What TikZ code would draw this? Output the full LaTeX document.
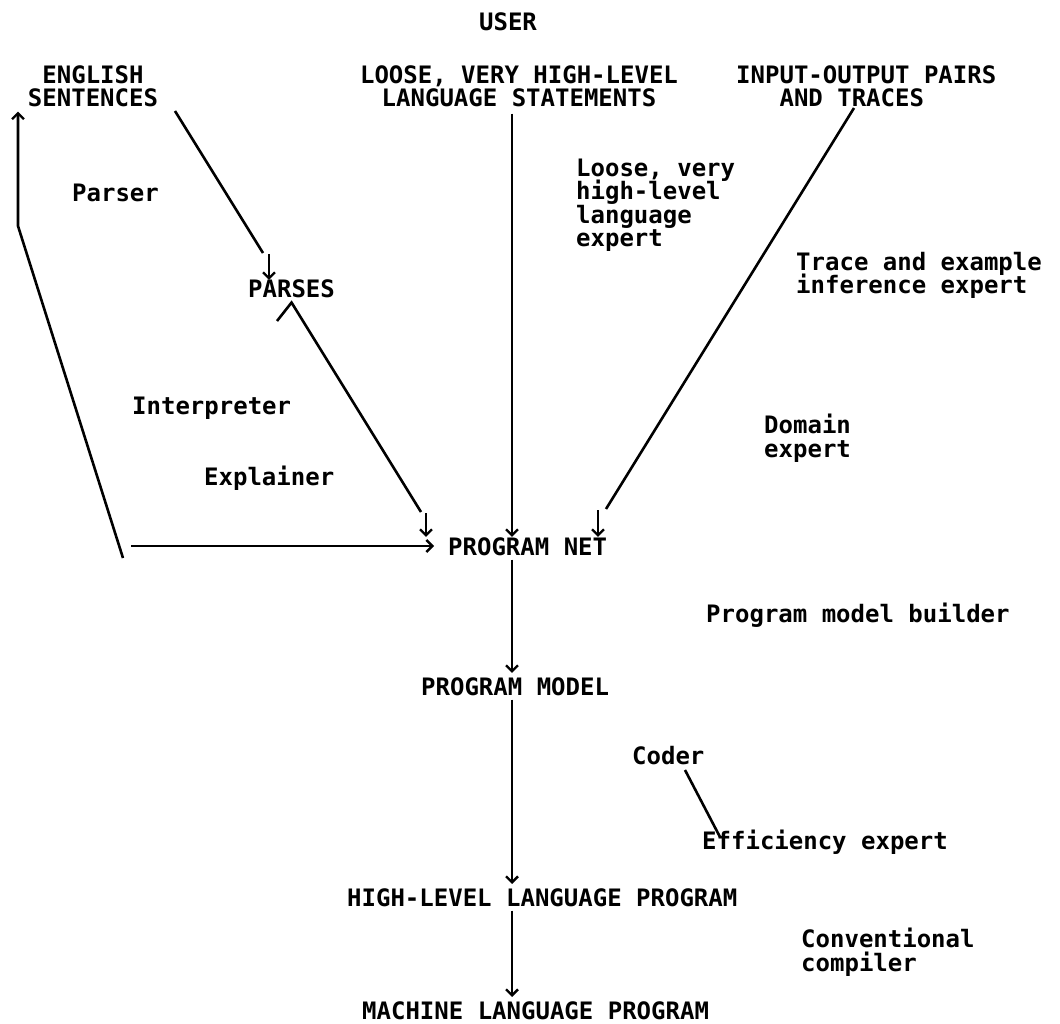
\documentclass[tikz,border=0pt]{standalone}
\usepackage{fontspec}
\usepackage{tikz}
\usetikzlibrary{arrows.meta}
\newfontfamily\printfont{DejaVu Sans Mono}
\newcommand\printtype{\printfont\bfseries\fontsize{24}{23.5}\selectfont\lineskiplimit=-20pt\relax}

\tikzset{
	lbl/.style = {font=\printtype, inner sep=0pt, anchor=base west},
	wire/.style = {line width=2.6pt},
	arr/.style = {wire, -{Straight Barb[length=6pt,width=12pt,line width=2.4pt]}},
	spineseg/.style = {arr, shorten <=4pt, shorten >=4pt}
}

\begin{document}
\begin{tikzpicture}[x=1pt, y=-1pt]
	\useasboundingbox (0,0) rectangle (1060,1024);

	% inputs along the top (base = last line)
	\node (user) at (508,31) [lbl, anchor=base] {USER};
	\node (english) at (93,107) [lbl, anchor=base, align=center] {ENGLISH\\SENTENCES};
	\node (loose) at (519,107) [lbl, anchor=base, align=center] {LOOSE, VERY HIGH-LEVEL\\LANGUAGE STATEMENTS};
	\node (io) at (736,107) [lbl, align=left] {INPUT-OUTPUT PAIRS\\\hphantom{INP}AND TRACES};

	% intermediate forms
	\node (parses) at (248,298) [lbl] {PARSES};
	\node (net) at (448,555) [lbl] {PROGRAM NET};
	\node (model) at (421,695) [lbl] {PROGRAM MODEL};
	\node (high) at (347,906) [lbl] {HIGH-LEVEL LANGUAGE PROGRAM};
	\node (machine) at (362,1019) [lbl] {MACHINE LANGUAGE PROGRAM};

	% the experts
	\node (parser) at (72,202) [lbl] {Parser};
	\node (interp) at (132,414) [lbl] {Interpreter};
	\node (explainer) at (204,485) [lbl] {Explainer};
	\node (looseexp) at (576,247) [lbl, align=left] {Loose, very\\high-level\\language\\expert};
	\node (traceexp) at (796,294) [lbl, align=left] {Trace and example\\inference expert};
	\node (domain) at (764,457) [lbl, align=left] {Domain\\expert};
	\node (builder) at (706,622) [lbl] {Program model builder};
	\node (coder) at (632,764) [lbl] {Coder};
	\node (effic) at (702,849) [lbl] {Efficiency expert};
	\node (compiler) at (801,971) [lbl, align=left] {Conventional\\compiler};

	% bends and loose ends
	\coordinate (spine) at (512,0);
	\coordinate (foot) at (123,558);
	\coordinate (knee) at (18,226);
	\coordinate (back) at (131,546);
	\coordinate (s1) at (175,111);
	\coordinate (s2) at (263,253);
	\coordinate (drop1) at (269,254);
	\coordinate (c1) at (277,321);
	\coordinate (c2) at (421,512);
	\coordinate (drop2) at (426,513);
	\coordinate (t1) at (854,108);
	\coordinate (t2) at (606,509);
	\coordinate (drop3) at (598,510);
	\coordinate (k1) at (685,770);
	\coordinate (k2) at (720,837);

	% main line down the middle
	\draw[arr] ([yshift=-6pt]loose.south -| spine) -- (net.north -| spine);
	\draw[spineseg] (net.south -| spine) -- (model.north -| spine);
	\draw[spineseg] (model.south -| spine) -- (high.north -| spine);
	\draw[spineseg] (high.south -| spine) -- (machine.north -| spine);

	% english side
	\draw[wire] (s1) -- (s2);
	\draw[arr] (drop1) -- (drop1 |- parses.north);
	\draw[wire] (c1) -- ([yshift=-4pt]parses.south) -- (c2);
	\draw[arr] (drop2) -- (drop2 |- net.north);
	\draw[arr] (foot) -- (knee) -- ([yshift=-4pt]knee |- english.south);
	\draw[arr, shorten >=14pt] (back) -- (back -| net.west);

	% traces side
	\draw[wire] (t1) -- (t2);
	\draw[arr] (drop3) -- (drop3 |- net.north);

	\draw[wire] (k1) -- (k2);
\end{tikzpicture}
\end{document}
